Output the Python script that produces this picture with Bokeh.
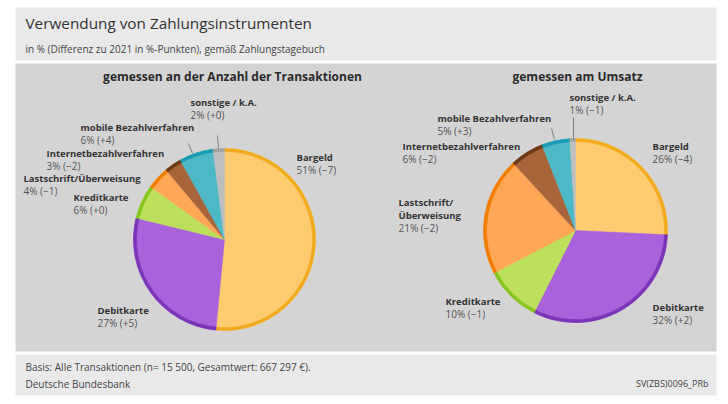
import math
from bokeh.plotting import figure
from bokeh.models import Range1d
from bokeh.core.properties import value
from bokeh.embed import file_html
from bokeh.resources import INLINE

# ---------------- data ----------------
categories = ["Bargeld", "Debitkarte", "Kreditkarte", "Lastschrift/Überweisung",
              "Internetbezahlverfahren", "mobile Bezahlverfahren", "sonstige / k.A."]
share_count = [51, 27, 6, 4, 3, 6, 2]
diff_count = [-7, 5, 0, -1, -2, 4, 0]
share_turnover = [26, 32, 10, 21, 6, 5, 1]
diff_turnover = [-4, 2, -1, -2, -2, 3, -1]

fill_colors = ["#FFCB70", "#AA62DA", "#BDE05C", "#FFA757", "#A8643A", "#4DB8C6", "#BEBEBE"]
rim_colors = ["#F0AA1E", "#7B35B8", "#84C520", "#F07D00", "#6E3A18", "#1A9AB5", "#A4A4A4"]

title = "Verwendung von Zahlungsinstrumenten"
subtitle = "in % (Differenz zu 2021 in %-Punkten), gemäß Zahlungstagebuch"
heading_left = "gemessen an der Anzahl der Transaktionen"
heading_right = "gemessen am Umsatz"
footer_1 = "Basis: Alle Transaktionen (n= 15 500, Gesamtwert: 667 297 €)."
footer_2 = "Deutsche Bundesbank"
footer_code = "SV(ZBS)0096_PRb"

W, H = 720, 396
FONT = "Open Sans"


def X(px):
    return px


def Y(py):
    return H - py


p = figure(width=W, height=H, x_range=Range1d(0, W), y_range=Range1d(0, H),
           output_backend="svg", toolbar_location=None, min_border=0)
p.axis.visible = False
p.grid.visible = False
p.outline_line_color = None
p.background_fill_color = "white"
p.border_fill_color = "white"

# panels
p.quad(left=[X(15)], right=[X(716)], top=[Y(7)], bottom=[Y(60)], fill_color="#E9E9E9", line_color=None)
p.quad(left=[X(15)], right=[X(716)], top=[Y(63)], bottom=[Y(351)], fill_color="#D4D4D4", line_color=None)
p.quad(left=[X(15)], right=[X(716)], top=[Y(354)], bottom=[Y(395)], fill_color="#E9E9E9", line_color=None)


def txt(x, y, s, size, color="#333333", bold=False, align="left"):
    p.text(x=[X(x)], y=[Y(y)], text=[s], text_font=value(FONT), text_font_size=f"{size}px",
           text_color=color, text_font_style="bold" if bold else "normal",
           text_align=align, text_baseline="middle")


txt(25, 22, title, 15.3, "#333333")
txt(25, 48, subtitle, 10, "#444444")
txt(232, 76, heading_left, 12, "#2a2a2a", bold=True, align="center")
txt(577, 76, heading_right, 12, "#2a2a2a", bold=True, align="center")
txt(25, 366, footer_1, 10, "#444444")
txt(25, 383, footer_2, 10, "#444444")
txt(708, 383, footer_code, 9, "#444444", align="right")


def pie(cx, cy, r, shares):
    total = float(sum(shares))
    cum = 0.0
    starts, ends = [], []
    for s in shares:
        starts.append(math.pi / 2 - 2 * math.pi * cum / total)
        cum += s
        ends.append(math.pi / 2 - 2 * math.pi * cum / total)
    n = len(shares)
    p.wedge(x=[X(cx)] * n, y=[Y(cy)] * n, radius=r, start_angle=starts, end_angle=ends,
            direction="clock", fill_color=fill_colors, line_color=fill_colors, line_width=0.5)
    p.annular_wedge(x=[X(cx)] * n, y=[Y(cy)] * n, inner_radius=r - 3, outer_radius=r,
                    start_angle=starts, end_angle=ends, direction="clock",
                    fill_color=rim_colors, line_color=rim_colors, line_width=0.5)


pie(224, 239, 91, share_count)
pie(575, 230, 92, share_turnover)


def fmt(v, d):
    sign = "+" if d >= 0 else "\u2212"
    return f"{v}% ({sign}{abs(d)})"


left_names = list(categories)
right_names = ["Bargeld", "Debitkarte", "Kreditkarte", "Lastschrift/\nÜberweisung",
               "Internetbezahlverfahren", "mobile Bezahlverfahren", "sonstige / k.A."]
left_pos = [(296, 157), (97, 310), (73, 197), (23, 178), (46, 153), (80, 127), (190, 102)]
right_pos = [(652, 146), (652, 307), (445, 301), (398, 202), (402, 146), (437, 118), (569, 97)]
LS = 12.5


def labels(names, pos, shares, diffs):
    for name, (x, y), v, d in zip(names, pos, shares, diffs):
        lines = name.split("\n")
        for i, ln in enumerate(lines):
            txt(x, y + i * LS, ln, 9.5, "#333333", bold=True)
        txt(x, y + len(lines) * LS, fmt(v, d), 10, "#555555")


labels(left_names, left_pos, share_count, diff_count)
labels(right_names, right_pos, share_turnover, diff_turnover)

# leader lines
p.segment(x0=[X(217), X(188), X(573), X(551)], y0=[Y(135), Y(143), Y(117), Y(128)],
          x1=[X(218), X(192), X(573), X(554)], y1=[Y(148), Y(153), Y(139), Y(139)],
          line_color="#6A6A6A", line_width=0.8)

open("out.html", "w").write(file_html(p, INLINE))
